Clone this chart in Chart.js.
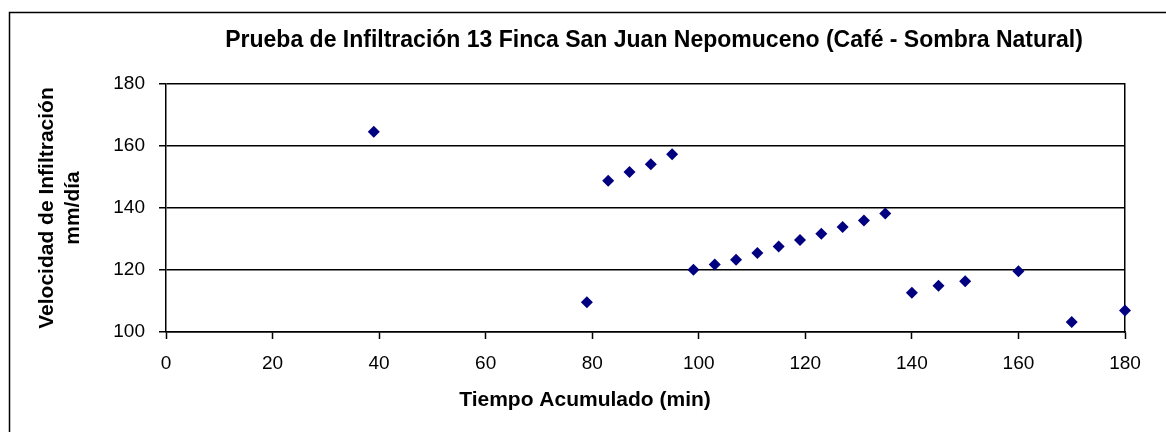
<!DOCTYPE html>
<html>
<head>
<meta charset="utf-8">
<script src="https://cdn.jsdelivr.net/npm/chart.js@4"></script>
<style>
  html, body { margin: 0; padding: 0; background: #fff; }
  #wrap { width: 1166px; height: 432px; position: relative; }
</style>
</head>
<body>
<div id="wrap"><canvas id="infil"></canvas></div>
<script>
// ---------- DATA ----------
const tiempo = [39, 79, 83, 87, 91, 95, 99, 103, 107, 111, 115, 119, 123, 127, 131, 135, 140, 145, 150, 160, 170, 180];
const velocidad = [164.6, 109.6, 148.8, 151.6, 154.1, 157.3, 120.1, 121.8, 123.3, 125.5, 127.6, 129.7, 131.7, 133.9, 136.0, 138.2, 112.7, 114.9, 116.4, 119.6, 103.2, 106.9];
const xTicks = [0, 20, 40, 60, 80, 100, 120, 140, 160, 180];
const yTicks = [100, 120, 140, 160, 180];

const chartTitle = 'Prueba de Infiltración 13 Finca San Juan Nepomuceno (Café - Sombra Natural)';
const xTitle = 'Tiempo Acumulado (min)';
const yTitle = ['Velocidad de Infiltración', 'mm/día'];

const FONT = "'Liberation Sans', Arial, sans-serif";

// ---------- TEXT + FRAME (excel style) ----------
const excelText = {
  id: 'excelText',
  beforeDraw(chart) {
    const ctx = chart.ctx;
    ctx.save();
    ctx.strokeStyle = '#000';
    ctx.lineWidth = 1.5;
    ctx.beginPath();
    ctx.moveTo(9.5, 440);
    ctx.lineTo(9.5, 12.5);
    ctx.lineTo(1170, 12.5);
    ctx.stroke();
    ctx.restore();
  },
  afterDraw(chart) {
    const ctx = chart.ctx;
    ctx.save();
    ctx.fillStyle = '#000';
    ctx.textAlign = 'center';
    ctx.textBaseline = 'middle';
    ctx.font = "bold 23px " + FONT;
    ctx.fillText(chartTitle, 654, 41);
    ctx.font = "bold 21px " + FONT;
    ctx.fillText(xTitle, 585, 400);
    ctx.restore();
  }
};

// ---------- SCATTER ----------
const infil = document.getElementById('infil');
new Chart(infil, {
  type: 'scatter',
  data: {
    datasets: [{
      label: 'Velocidad',
      data: tiempo.map((t, i) => ({ x: t, y: velocidad[i] })),
      pointStyle: 'rectRot',
      pointRadius: 6,
      pointBorderWidth: 0,
      backgroundColor: '#000080',
      borderColor: '#000080',
      clip: false
    }]
  },
  options: {
    responsive: true,
    maintainAspectRatio: false,
    animation: false,
    layout: { padding: { top: 84, right: 41, left: 0, bottom: 0 } },
    plugins: {
      legend: { display: false },
      title: { display: false },
      tooltip: { enabled: false }
    },
    scales: {
      x: {
        type: 'linear',
        min: 0,
        max: 180,
        afterFit: s => { s.height = 100; },
        afterBuildTicks: s => { s.ticks = xTicks.map(v => ({ value: v })); },
        ticks: { color: '#000', font: { family: FONT, size: 19 }, padding: 13, maxRotation: 0 },
        grid: { drawOnChartArea: false, color: '#000', tickLength: 7, tickWidth: 1.5 },
        border: { color: '#000', width: 1.5 }
      },
      y: {
        min: 100,
        max: 180,
        afterFit: s => { s.width = 166; },
        afterBuildTicks: s => { s.ticks = yTicks.map(v => ({ value: v })); },
        ticks: { color: '#000', font: { family: FONT, size: 19 }, padding: 14 },
        grid: { color: '#000', lineWidth: 1.5, tickLength: 7 },
        border: { color: '#000', width: 1.5 },
        title: {
          display: true,
          text: yTitle,
          color: '#000',
          font: { family: FONT, size: 21, weight: 'bold' },
          padding: { top: 35, bottom: 0 }
        }
      },
      yRight: {
        position: 'right',
        display: true,
        afterFit: s => { s.width = 0; },
        ticks: { display: false },
        grid: { drawOnChartArea: false, drawTicks: false },
        border: { color: '#000', width: 1.5 }
      }
    }
  },
  plugins: [excelText]
});
</script>
</body>
</html>
